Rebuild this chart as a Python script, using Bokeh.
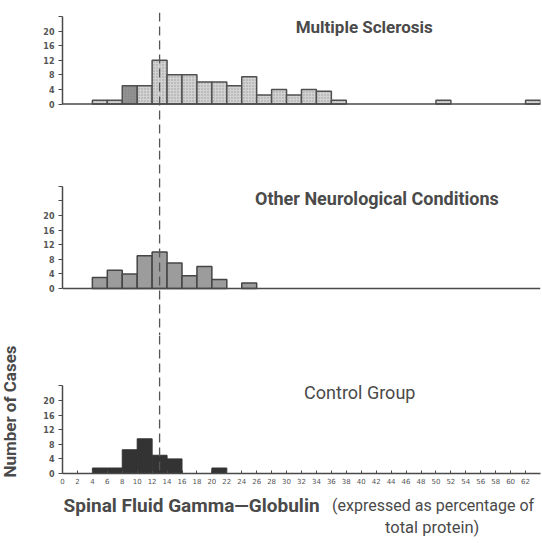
import math
from bokeh.plotting import figure
from bokeh.models import Range1d, FixedTicker, Span, Label
from bokeh.layouts import column, row
from bokeh.embed import file_html
from bokeh.resources import INLINE

# ---------------- data ----------------
bin_width = 2
ms_left = [4, 6, 8, 10, 12, 14, 16, 18, 20, 22, 24, 26, 28, 30, 32, 34, 36, 50, 62]
ms_count = [1, 1, 5, 5, 12, 8, 8, 6, 6, 5, 7.5, 2.5, 4, 2.5, 4, 3.5, 1, 1, 1]
ms_dark_bin = 8

ond_left = [4, 6, 8, 10, 12, 14, 16, 18, 20, 24]
ond_count = [3, 5, 4, 9, 10, 7, 3.5, 6, 2.5, 1.5]

ctrl_left = [4, 6, 8, 10, 12, 14, 20]
ctrl_count = [1.5, 1.5, 6.5, 9.5, 5, 4, 1.5]

x_ticks = list(range(0, 63, 2))
y_ticks_a = [0, 4, 8, 12, 16, 20, 24]
y_ticks_b = [0, 4, 8, 12, 16, 20, 24, 28]
threshold = 13

title_ms = "Multiple Sclerosis"
title_ond = "Other Neurological Conditions"
title_ctrl = "Control Group"
y_title = "Number of Cases"
x_title_bold = "Spinal Fluid Gamma\u2014Globulin"
x_title_rest1 = "(expressed as percentage of"
x_title_rest2 = "total protein)"

# ---------------- styling / geometry ----------------
LABEL_W = 20
W = 522
LEFT = 42
RIGHT = 2
X_MAX = 64
PPX = (W - LEFT - RIGHT) / X_MAX
PPC = 3.65  # pixels per count
INK = "#4a4a4a"
FONT = "Roboto"
H1, H2, H3, H4 = 150, 185, 156, 52
TOTAL_H = H1 + H2 + H3 + H4


def style_fig(p):
    p.outline_line_color = None
    p.grid.visible = False
    p.background_fill_color = "white"
    p.border_fill_color = "white"


def make_panel(height, top, bottom, zero_from_top, y_ticks, with_x_axis):
    fh = height - top - bottom
    y_end = zero_from_top / PPC
    y_start = -(fh - zero_from_top) / PPC
    p = figure(width=W, height=height, output_backend="svg", toolbar_location=None,
               x_range=Range1d(0, X_MAX), y_range=Range1d(y_start, y_end),
               x_axis_type="linear" if with_x_axis else None,
               min_border_left=LEFT, min_border_right=RIGHT,
               min_border_top=top, min_border_bottom=bottom)
    style_fig(p)
    ya = p.yaxis[0]
    ya.ticker = FixedTicker(ticks=y_ticks)
    ya.bounds = (0, y_ticks[-1])
    ya.major_label_overrides = {t: "" for t in y_ticks if t > 20}
    ya.axis_line_color = INK
    ya.axis_line_width = 1.5
    ya.major_tick_line_color = INK
    ya.major_tick_out = 4
    ya.major_tick_in = 0
    ya.minor_tick_line_color = None
    ya.major_label_text_font_size = "8px"
    ya.major_label_text_font_style = "bold"
    ya.major_label_text_color = "#555555"
    ya.major_label_text_font = "DejaVu Sans"
    ya.major_label_standoff = 4
    if with_x_axis:
        xa = p.xaxis[0]
        xa.ticker = FixedTicker(ticks=x_ticks)
        xa.axis_line_color = INK
        xa.axis_line_width = 1.5
        xa.major_tick_line_color = INK
        xa.major_tick_in = 3
        xa.major_tick_out = 0
        xa.minor_tick_line_color = None
        xa.major_label_text_font_size = "7px"
        xa.major_label_text_color = "#555555"
        xa.major_label_text_font = "DejaVu Sans"
        xa.major_label_standoff = 4
    else:
        p.add_layout(Span(location=0, dimension="width", line_color=INK, line_width=1.5))
    p.add_layout(Span(location=threshold, dimension="height", line_color="#555555",
                      line_width=1.3, line_dash="9 5"))
    return p


# ---- panel 1: Multiple Sclerosis ----
p1 = make_panel(H1, 12, 0, 91.5, y_ticks_a, False)
ms_right = [l + bin_width for l in ms_left]
ms_fill = ["#8c8c8c" if l == ms_dark_bin else "#d2d2d2" for l in ms_left]
p1.quad(left=ms_left, right=ms_right, bottom=0, top=ms_count,
        fill_color=ms_fill, line_color="#505050", line_width=1.5,
        hatch_pattern="dot", hatch_color="#9a9a9a", hatch_scale=3, hatch_weight=1)
p1.add_layout(Label(x=40.4, y=21, text=title_ms, text_align="center", text_baseline="middle",
                    text_font=FONT, text_font_style="bold", text_font_size="17px",
                    text_color=INK))

# ---- panel 2: Other Neurological Conditions ----
p2 = make_panel(H2, 0, 0, 138, y_ticks_b, False)
ond_right = [l + bin_width for l in ond_left]
p2.quad(left=ond_left, right=ond_right, bottom=0, top=ond_count,
        fill_color="#9c9c9c", line_color="#454545", line_width=1.5)
p2.add_layout(Label(x=42.1, y=24.7, text=title_ond, text_align="center", text_baseline="middle",
                    text_font=FONT, text_font_style="bold", text_font_size="18px",
                    text_color=INK))

# ---- panel 3: Control Group ----
p3 = make_panel(H3, 0, 18, 138, y_ticks_a, True)
ctrl_right = [l + bin_width for l in ctrl_left]
p3.quad(left=ctrl_left, right=ctrl_right, bottom=0, top=ctrl_count,
        fill_color="#333333", line_color="#333333", line_width=1)
p3.add_layout(Label(x=39.8, y=22.2, text=title_ctrl, text_align="center", text_baseline="middle",
                    text_font=FONT, text_font_size="18px", text_color=INK))

# ---- panel 4: x-axis title ----
p4 = figure(width=W, height=H4, output_backend="svg", toolbar_location=None,
            x_range=Range1d(0, X_MAX), y_range=Range1d(0, H4),
            x_axis_type=None, y_axis_type=None,
            min_border_left=LEFT, min_border_right=RIGHT, min_border_top=0, min_border_bottom=0)
style_fig(p4)
p4.add_layout(Label(x=0.15, y=38, text=x_title_bold, text_align="left", text_baseline="middle",
                    text_font=FONT, text_font_style="bold", text_font_size="19px",
                    text_color=INK))
p4.add_layout(Label(x=36.1, y=38, text=x_title_rest1, text_align="left", text_baseline="middle",
                    text_font=FONT, text_font_size="16px", text_color=INK))
p4.add_layout(Label(x=49.5, y=16, text=x_title_rest2, text_align="center", text_baseline="middle",
                    text_font=FONT, text_font_size="16.5px", text_color=INK))

# ---- left strip: y-axis title ----
pL = figure(width=LABEL_W, height=TOTAL_H, output_backend="svg", toolbar_location=None,
            x_range=Range1d(0, LABEL_W), y_range=Range1d(0, TOTAL_H),
            x_axis_type=None, y_axis_type=None,
            min_border_left=0, min_border_right=0, min_border_top=0, min_border_bottom=0)
style_fig(pL)
pL.add_layout(Label(x=9.5, y=TOTAL_H - 411, text=y_title, angle=math.pi / 2,
                    text_align="center", text_baseline="middle",
                    text_font=FONT, text_font_style="bold", text_font_size="17px",
                    text_color=INK))

layout = row(pL, column(p1, p2, p3, p4, spacing=0), spacing=0)
open("out.html", "w").write(file_html(layout, INLINE))
